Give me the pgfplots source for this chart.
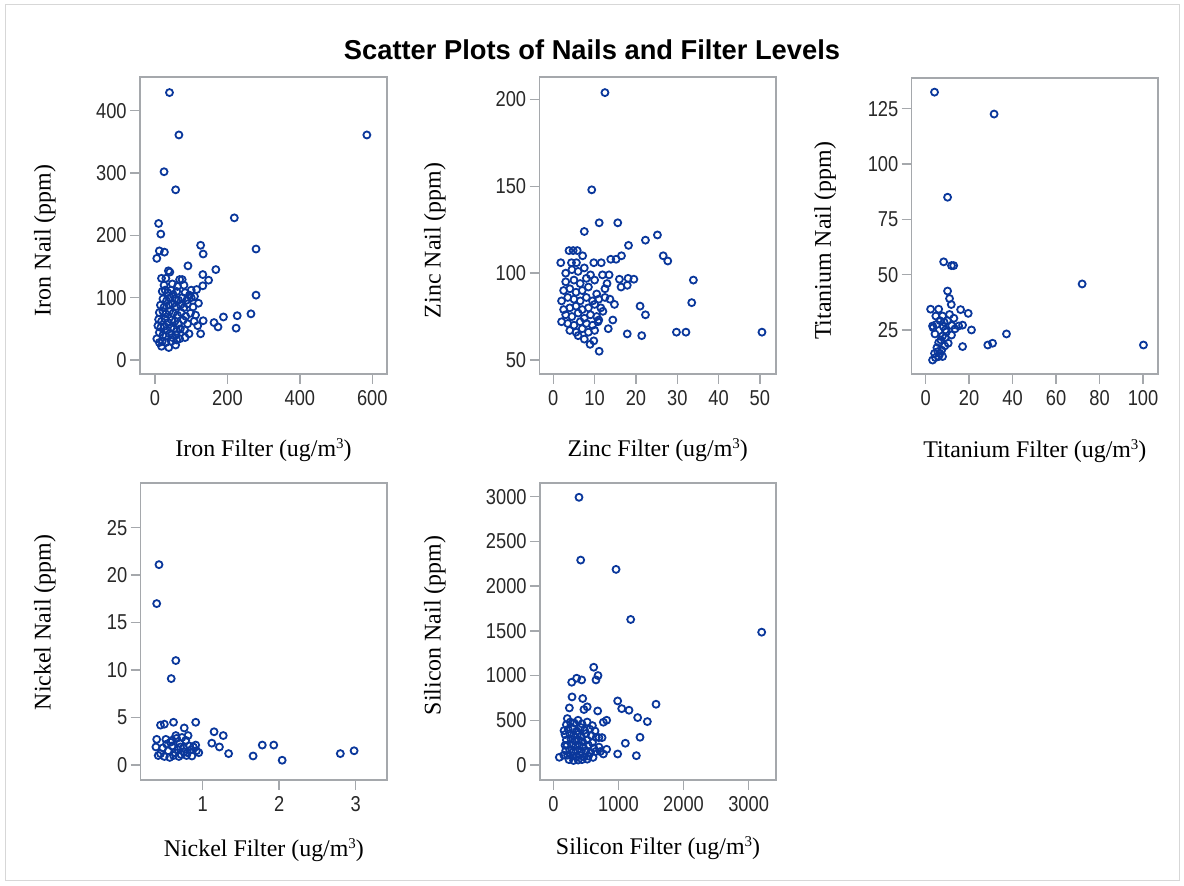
\documentclass[border=0pt]{standalone}
\usepackage{fontspec}
\setmainfont{Liberation Serif}
\newfontfamily\tickfont[FakeStretch=0.85]{Liberation Sans}
\newfontfamily\titlefont{Liberation Sans}
\usepackage{pgfplots}
\pgfplotsset{compat=1.18}
\definecolor{axisgray}{RGB}{165,168,172}
\definecolor{ticktext}{RGB}{40,40,40}
\definecolor{markblue}{RGB}{10,55,155}
\definecolor{framegray}{RGB}{215,215,215}
\newcommand{\cube}{\raisebox{0.75ex}{\fontsize{7.5}{8}\selectfont 3}}
\pgfplotsset{
  panel/.style={
    scale only axis, anchor=south west,
    axis line style={draw=axisgray, line width=0.75bp},
    tick style={draw=axisgray, line width=0.75bp},
    tick align=outside, major tick length=5bp,
    xtick pos=bottom, ytick pos=left,
    minor tick num=0,
    tick label style={font=\tickfont\fontsize{10.8}{12}\selectfont, text=ticktext},
    /pgf/number format/assume math mode=true,
    /pgf/number format/set thousands separator={},
    scaled ticks=false,
    xticklabel style={inner sep=0pt, yshift=-3bp},
    yticklabel style={inner sep=0pt, xshift=-1.5bp},
    label style={font=\fontsize{12}{14}\selectfont},
  },
  nailmark/.style={only marks, mark=o, mark size=1.75bp, draw=markblue,
      mark options={line width=0.9bp, draw=markblue, fill=none, solid}},
}
\begin{document}
\begin{tikzpicture}
\path[use as bounding box] (0,0) rectangle (592bp,443bp);
\draw[framegray, line width=0.5bp] (2.5bp,2.5bp) rectangle (589.5bp,440.5bp);
\node[font=\titlefont\bfseries\fontsize{13.7}{16}\selectfont] at (296bp,418bp) {Scatter Plots of Nails and Filter Levels};

% Iron
\begin{axis}[panel, at={(70bp,256bp)}, width=123.5bp, height=148.5bp,
  xmin=-41.4, xmax=640.6, ymin=-22.5, ymax=454,
  xtick={0,200,400,600}, ytick={0,100,200,300,400},
  xlabel={Iron Filter (ug/m\cube)}, ylabel={Iron Nail (ppm)},
  xlabel style={at={(axis description cs:0.5,-0.256)}, anchor=center},
  ylabel style={at={(axis description cs:-0.385,0.45)}, anchor=center}]
\addplot[nailmark] coordinates {(40,429)(66,361)(585,361)(25,302)(57,273)(219,228)(10,219)(16,202)(12,175)(26,173)(5,163)(126,184)(133,170)(279,178)(91,151)(168,145)(132,137)(148,128)(132,119)(37,143)(41,141)(18,131)(30,131)(68,129)(75,129)(279,104)(115,113)(109,102)(83,108)(120,91)(112,72)(133,63)(189,69)(227,71)(265,74)(224,51)(163,60)(174,53)(118,55)(126,42)(83,36)(94,42)(57,24)(5,34)(18,22)
(20,110)(28,112)(35,108)(45,112)(50,105)(60,110)(22,98)(32,95)(42,100)(55,98)(65,96)(75,100)(88,96)(95,104)(100,100)(15,88)(25,85)(38,88)(48,90)(58,86)(70,88)(80,84)(90,90)(12,76)(22,78)(30,74)(40,78)(50,75)(62,72)(72,76)(85,70)(10,65)(18,62)(28,66)(36,60)(46,64)(55,62)(65,58)(78,64)(90,58)(8,55)(16,52)(26,54)(34,48)(44,52)(52,50)(60,46)(70,50)(82,48)(12,44)(22,40)(30,38)(40,42)(48,36)(58,40)(68,34)(20,30)(30,28)(45,30)(60,32)(12,28)(38,20)(25,120)(48,122)(62,118)(80,120)(100,112)(105,85)(98,75)(108,62)};
\end{axis}

% Zinc
\begin{axis}[panel, at={(269.75bp,256bp)}, width=118.25bp, height=148.5bp,
  xmin=-3.34, xmax=53.9, ymin=41.9, ymax=213,
  xtick={0,10,20,30,40,50}, ytick={50,100,150,200},
  xlabel={Zinc Filter (ug/m\cube)}, ylabel={Zinc Nail (ppm)},
  xlabel style={at={(axis description cs:0.5,-0.256)}, anchor=center},
  ylabel style={at={(axis description cs:-0.442,0.45)}, anchor=center}]
\addplot[nailmark] coordinates {(12.5,204)(9.3,148)(11.1,129)(15.6,129)(7.5,124)(22.3,119)(25.2,122)(18.2,116)(26.6,110)(27.7,107)(16.5,110)(13.9,108)(15.2,108)(3.8,113)(4.8,113)(5.8,113)(7.1,110)(1.8,106)(4.4,106)(5.6,106)(9.8,106)(11.6,106)(33.9,96)(33.5,83)(11.9,99)(13.5,99)(16,96.5)(18.1,97)(19.5,96.5)(16.4,92)(17.9,93)(12.5,91)(21,81)(22.3,76)(14.8,82)(13.7,85)(17.9,65)(21.4,64)(29.8,66)(32.1,66)(50.5,66)(11.1,55)(8.9,59)(9.8,61)(13.3,68)(14.4,73)(10.8,72)
(3,100)(4.5,102)(6,101)(7.5,103)(9,99)(3,95)(5,96)(6.5,94)(8,97)(10,96)(2.5,90)(4,91)(5.5,89)(7,90)(8.5,92)(10.5,88)(3.5,86)(5,85)(6.5,84)(8,86)(9.5,84)(11,85)(2,84)(4,80)(5.5,81)(7,79)(8.5,80)(10,82)(11.5,80)(3,76)(4.5,75)(6,77)(7.5,74)(9,76)(10.5,75)(2,72)(3.5,71)(5,70)(6.5,72)(8,71)(9.5,70)(11,73)(4,67)(5.5,66)(7,68)(8.5,66)(10,67)(6,64)(7.5,62)(12,78)(12.5,86)(13,94)(2.5,79)};
\end{axis}

% Titanium
\begin{axis}[panel, at={(455.85bp,256bp)}, width=123.15bp, height=148bp,
  xmin=-6.4, xmax=106.9, ymin=5.1, ymax=138.9,
  xtick={0,20,40,60,80,100}, ytick={25,50,75,100,125},
  xlabel={Titanium Filter (ug/m\cube)}, ylabel={Titanium Nail (ppm)},
  xlabel style={at={(axis description cs:0.5,-0.26)}, anchor=center},
  ylabel style={at={(axis description cs:-0.352,0.45)}, anchor=center}]
\addplot[nailmark] coordinates {(4.1,132.5)(31.5,122.6)(10.1,85)(8.3,55.8)(11.9,54.1)(12.9,54.1)(72,45.8)(10.1,42.6)(11,39.2)(11.8,36.5)(2.3,34.4)(6,34.4)(16.1,34.2)(19.6,32.5)(4.7,31.3)(7.8,31.3)(13,30.3)(6.6,29.2)(10,29.2)(3.2,26.8)(8.1,26.6)(15.2,26.8)(17,27.2)(21.1,25)(4.3,23.2)(9.6,24.2)(11.9,22.7)(7.8,22.3)(37.2,23.2)(6,19.3)(10.4,19)(17,17.5)(28.6,18.2)(30.8,19)(100.2,18.2)(4.1,14.4)(6.6,14.4)(7.8,13)(3.2,11.4)(5.6,15.2)(7.4,15.9)(9,25)(12,27)(5,27.5)(8.5,28.5)(11,32)(7,20.5)(9,21.5)(5.2,17)(8.8,17.8)(4.5,12.5)(6,13)(3.5,26)(13.5,25.5)};
\end{axis}

% Nickel
\begin{axis}[panel, at={(70.35bp,53bp)}, width=123.15bp, height=148.5bp,
  xmin=0.191, xmax=3.41, ymin=-1.58, ymax=29.7,
  xtick={1,2,3}, ytick={0,5,10,15,20,25},
  xlabel={Nickel Filter (ug/m\cube)}, ylabel={Nickel Nail (ppm)},
  xlabel style={at={(axis description cs:0.5,-0.236)}, anchor=center},
  ylabel style={at={(axis description cs:-0.389,0.53)}, anchor=center}]
\addplot[nailmark] coordinates {(0.43,21.1)(0.40,17.0)(0.65,11.0)(0.59,9.1)(0.45,4.2)(0.50,4.3)(0.62,4.5)(0.91,4.5)(0.76,3.9)(1.15,3.5)(1.27,3.1)(0.81,3.1)(0.65,3.1)(0.40,2.7)(0.52,2.7)(1.12,2.3)(1.22,1.9)(0.91,2.1)(1.78,2.1)(1.93,2.1)(1.34,1.2)(0.95,1.3)(1.66,0.95)(2.04,0.5)(2.80,1.2)(2.98,1.5)(0.86,0.95)(0.39,1.9)
(0.45,1.2)(0.5,0.9)(0.55,1.5)(0.6,2.0)(0.62,1.0)(0.68,1.6)(0.7,2.3)(0.72,1.1)(0.75,1.8)(0.78,2.6)(0.8,1.3)(0.83,2.0)(0.85,1.6)(0.58,2.4)(0.48,1.8)(0.53,2.2)(0.66,2.8)(0.73,2.9)(0.88,1.9)(0.92,1.5)(0.42,1.0)(0.57,0.8)(0.64,1.3)(0.69,0.9)(0.76,1.4)(0.6,2.6)(0.71,1.9)(0.79,1.0)};
\end{axis}

% Silicon
\begin{axis}[panel, at={(270bp,53bp)}, width=118bp, height=148.5bp,
  xmin=-205, xmax=3420, ymin=-168, ymax=3153,
  xtick={0,1000,2000,3000}, ytick={0,500,1000,1500,2000,2500,3000},
  xlabel={Silicon Filter (ug/m\cube)}, ylabel={Silicon Nail (ppm)},
  xlabel style={at={(axis description cs:0.5,-0.23)}, anchor=center},
  ylabel style={at={(axis description cs:-0.445,0.52)}, anchor=center}]
\addplot[nailmark] coordinates {(394,2993)(420,2291)(963,2187)(1188,1627)(3200,1485)(620,1093)(686,1000)(655,951)(358,970)(435,951)(282,925)(1577,679)(988,716)(287,761)(451,743)(246,638)(520,650)(470,620)(681,604)(1050,630)(1162,612)(819,500)(1295,530)(1444,485)(215,519)(1331,310)(1106,243)(988,123)(1275,104)(748,306)(700,306)(768,478)(819,175)(768,123)(92,86)(164,384)
(200,450)(260,480)(320,470)(380,500)(440,460)(520,480)(600,440)(230,400)(300,410)(360,380)(420,420)(480,390)(560,400)(640,380)(180,340)(250,350)(310,330)(370,340)(430,320)(500,350)(580,330)(660,310)(200,280)(270,290)(330,270)(390,280)(450,260)(520,280)(600,250)(210,220)(280,230)(340,210)(400,220)(460,200)(540,220)(620,190)(190,160)(250,170)(310,150)(370,165)(430,150)(500,160)(570,140)(650,150)(220,110)(290,100)(350,95)(410,110)(470,90)(540,100)(610,85)(240,60)(310,50)(380,55)(440,60)(520,65)(160,110)(180,220)(700,200)(720,150)};
\end{axis}
\end{tikzpicture}
\end{document}
